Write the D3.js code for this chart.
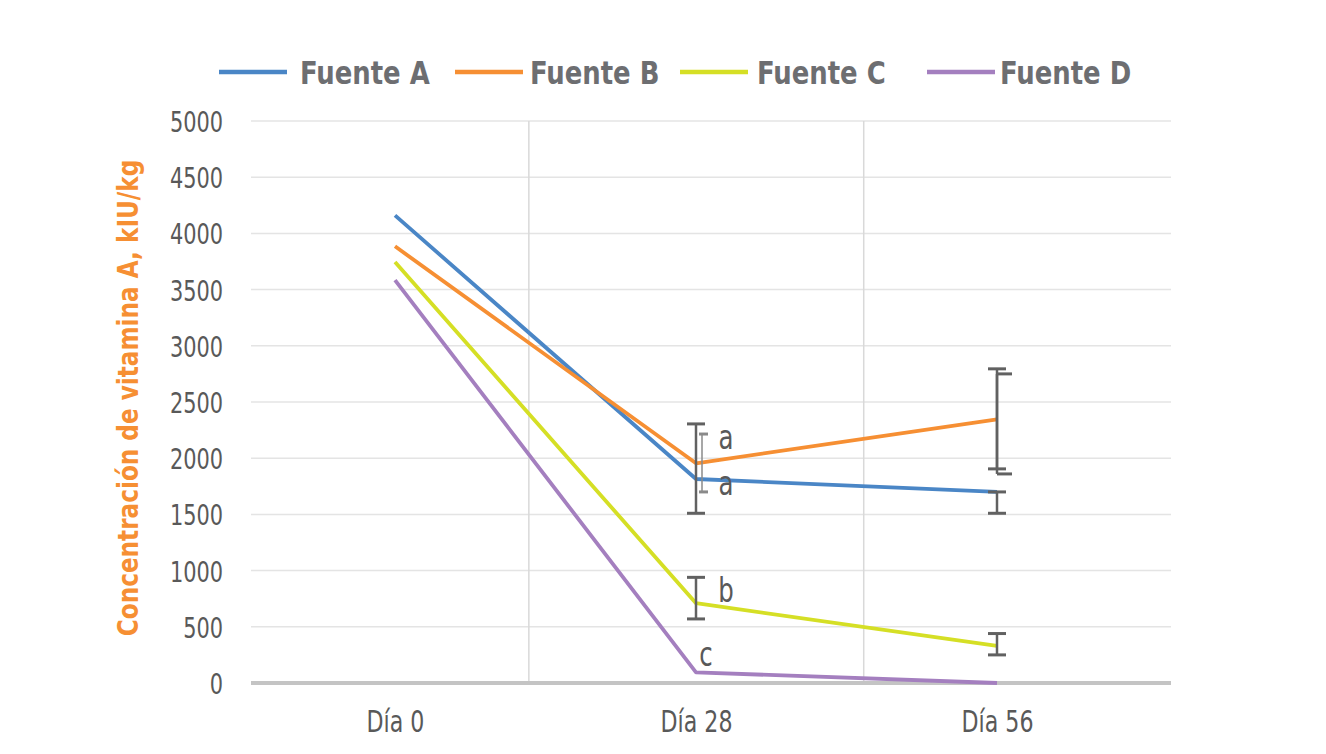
<!DOCTYPE html>
<html>
<head>
<meta charset="utf-8">
<script src="https://cdn.jsdelivr.net/npm/d3@7"></script>
<style>
  body { margin: 0; background: #fff; }
  svg text { font-family: "DejaVu Sans Condensed", "Liberation Sans Narrow", "Open Sans", sans-serif; }
</style>
</head>
<body>
<div id="chart"></div>
<script>
var width = 1326,
  height = 754;

// data
var days = ["Día 0", "Día 28", "Día 56"];
var seriesNames = ["Fuente A", "Fuente B", "Fuente C", "Fuente D"];
var fuenteA = [4160, 1815, 1700];
var fuenteB = [3885, 1955, 2345];
var fuenteC = [3745, 710, 330];
var fuenteD = [3585, 95, 0];
var yTicks = [0, 500, 1000, 1500, 2000, 2500, 3000, 3500, 4000, 4500, 5000];
var colors = ["#4a86c6", "#f68f33", "#d5df25", "#a47fbf"];

// error bars: day, low, high, horizontal shift of the caps, style
var errDay = ["Día 28", "Día 28", "Día 28", "Día 56", "Día 56", "Día 56", "Día 56"];
var errLow = [1510, 1700, 570, 1905, 1860, 1510, 250];
var errHigh = [2305, 2215, 940, 2795, 2750, 1700, 440];
var errShift = [0, 6, 0, 0, 6, 0, 0];
var errThin = [false, true, false, false, false, false, false];

// significance letters
var letterDay = ["Día 28", "Día 28", "Día 28", "Día 28"];
var letterVal = [2190, 1775, 825, 260];
var letterText = ["a", "a", "b", "c"];
var letterShift = [30, 30, 30, 10];

var plot = { left: 251, right: 1171, top: 121, bottom: 683 };
var squeeze = 0.8; // narrow the font horizontally, like a condensed face

var svg = d3.select("#chart").append("svg")
  .attr("width", width)
  .attr("height", height);

var x = d3.scalePoint()
  .domain(days)
  .range([395, 997]);

var y = d3.scaleLinear()
  .domain([0, 5000])
  .range([plot.bottom, plot.top]);

// horizontal gridlines
svg.append("g").selectAll("line")
  .data(yTicks.slice(1))
  .enter().append("line")
  .attr("x1", plot.left)
  .attr("x2", plot.right)
  .attr("y1", function (d) { return y(d); })
  .attr("y2", function (d) { return y(d); })
  .style("stroke", "#e4e4e4")
  .style("stroke-width", 1.5);

// vertical gridlines
svg.append("g").selectAll("line")
  .data([0.302, 0.666])
  .enter().append("line")
  .attr("x1", function (d) { return plot.left + d * (plot.right - plot.left); })
  .attr("x2", function (d) { return plot.left + d * (plot.right - plot.left); })
  .attr("y1", plot.top)
  .attr("y2", plot.bottom)
  .style("stroke", "#d9d9d9")
  .style("stroke-width", 1.5);

// y tick labels
var yAxis = svg.append("g")
  .attr("transform", "translate(223,0)")
  .call(d3.axisLeft(y).tickValues(yTicks).tickFormat(d3.format("d")).tickSize(0).tickPadding(0));
yAxis.select(".domain").remove();
yAxis.selectAll("text")
  .attr("transform", "scale(" + squeeze + ",1)")
  .style("font-size", "29px")
  .style("fill", "#595959")
  .attr("dy", "0.36em");

// x axis line
svg.append("line")
  .attr("x1", plot.left)
  .attr("x2", plot.right)
  .attr("y1", y(0))
  .attr("y2", y(0))
  .style("stroke", "#c4c4c4")
  .style("stroke-width", 4);

// x tick labels
var xAxis = svg.append("g")
  .attr("transform", "translate(0," + plot.bottom + ")")
  .call(d3.axisBottom(x).tickSize(0).tickPadding(0));
xAxis.select(".domain").remove();
xAxis.selectAll("text")
  .attr("y", 38)
  .attr("dy", "0.36em")
  .attr("transform", "scale(0.82,1)")
  .style("font-size", "30px")
  .style("fill", "#595959");

// y axis title
svg.append("text")
  .attr("transform", "translate(138,398)rotate(-90)scale(0.92,1)")
  .attr("text-anchor", "middle")
  .style("font-size", "28px")
  .style("font-weight", "bold")
  .style("fill", "#f68f33")
  .text("Concentración de vitamina A, kIU/kg");

// lines
var allSeries = [fuenteA, fuenteB, fuenteC, fuenteD];
var line = d3.line()
  .x(function (d, i) { return x(days[i]); })
  .y(function (d) { return y(d); });

svg.append("g").selectAll("path")
  .data(allSeries)
  .enter().append("path")
  .attr("d", line)
  .style("fill", "none")
  .style("stroke", function (d, i) { return colors[i]; })
  .style("stroke-width", 3.8)
  .style("stroke-linejoin", "round");

// error bars
var errG = svg.append("g");
errLow.forEach(function (lo, i) {
  var cx = x(errDay[i]);
  var stroke = errThin[i] ? "#8a8a8a" : "#616161";
  var sw = errThin[i] ? 1.5 : 2.5;
  var cap = errThin[i] ? 6 : 9;
  var lx = errThin[i] ? cx + errShift[i] : cx;
  errG.append("line")
    .attr("x1", lx).attr("x2", lx)
    .attr("y1", y(lo)).attr("y2", y(errHigh[i]))
    .style("stroke", stroke).style("stroke-width", sw);
  [lo, errHigh[i]].forEach(function (v) {
    errG.append("line")
      .attr("x1", cx + errShift[i] - cap + (errShift[i] ? 3 : 0))
      .attr("x2", cx + errShift[i] + cap)
      .attr("y1", y(v)).attr("y2", y(v))
      .style("stroke", stroke).style("stroke-width", 3);
  });
});

// letters
svg.append("g").selectAll("text")
  .data(letterText)
  .enter().append("text")
  .attr("transform", function (d, i) {
    return "translate(" + (x(letterDay[i]) + letterShift[i]) + "," + y(letterVal[i]) + ")scale(" + squeeze + ",1)";
  })
  .attr("dy", "0.35em")
  .attr("text-anchor", "middle")
  .style("font-size", "34px")
  .style("fill", "#595959")
  .text(function (d) { return d; });

// legend
var legendX = [219, 455, 680, 927];
var legendTextX = [300, 530, 757, 1000];
var legend = svg.append("g").selectAll("g")
  .data(seriesNames)
  .enter().append("g");

legend.append("line")
  .attr("x1", function (d, i) { return legendX[i]; })
  .attr("x2", function (d, i) { return legendX[i] + 68; })
  .attr("y1", 72).attr("y2", 72)
  .style("stroke", function (d, i) { return colors[i]; })
  .style("stroke-width", 4.5);

legend.append("text")
  .attr("transform", function (d, i) { return "translate(" + legendTextX[i] + ",72)scale(0.9,1)"; })
  .attr("dy", "0.36em")
  .style("font-size", "32px")
  .style("font-weight", "bold")
  .style("fill", "#6d6e71")
  .text(function (d) { return d; });
</script>
</body>
</html>
